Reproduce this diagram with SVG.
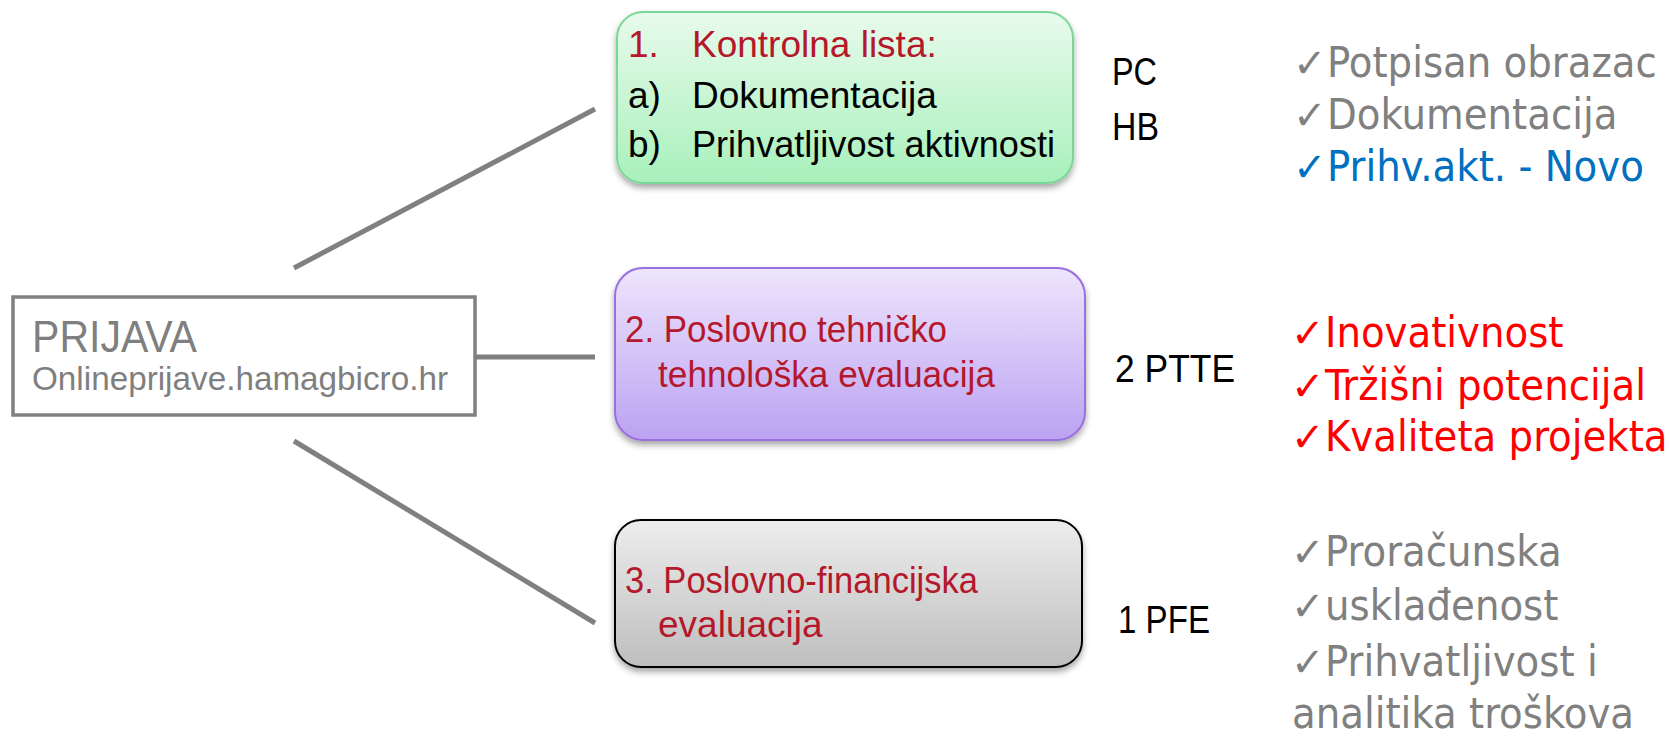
<svg xmlns="http://www.w3.org/2000/svg" width="1669" height="736" viewBox="0 0 1669 736">
<defs>
<linearGradient id="gGreen" x1="0" y1="0" x2="0" y2="1"><stop offset="0" stop-color="#E8FBEC"/><stop offset="1" stop-color="#A8F0BB"/></linearGradient>
<linearGradient id="gPurple" x1="0" y1="0" x2="0" y2="1"><stop offset="0" stop-color="#EDE5FC"/><stop offset="1" stop-color="#BCA2F2"/></linearGradient>
<linearGradient id="gGray" x1="0" y1="0" x2="0" y2="1"><stop offset="0" stop-color="#EDEDED"/><stop offset="1" stop-color="#BEBEBE"/></linearGradient>
<filter id="shadow" x="-10%" y="-10%" width="120%" height="130%"><feDropShadow dx="0" dy="4" stdDeviation="3" flood-color="#000" flood-opacity="0.35"/></filter>
<style>
.cal{font-family:"Liberation Sans",Arial,sans-serif;}
.dred{fill:#B5172B;}
.blk{fill:#000;}
.tah{font-family:"DejaVu Sans Condensed","Liberation Sans",sans-serif;font-size:43px;}
.chk{font-family:"DejaVu Sans",sans-serif;font-size:40px;}
.gray{fill:#808080;}
.blue{fill:#0070C0;}
.red{fill:#FF0000;}
.conn{stroke:#808080;stroke-width:5;fill:none;}
</style>
</defs>

<g id="connectors">
<line class="conn" x1="294" y1="268" x2="595" y2="109"/>
<line class="conn" x1="475" y1="357" x2="595" y2="357"/>
<line class="conn" x1="294" y1="441" x2="595" y2="623"/>
</g>

<g id="prijava">
<rect x="13" y="297" width="462" height="118" fill="#FFFFFF" stroke="#808080" stroke-width="3.5"/>
<text class="cal" x="32" y="352" font-size="44" fill="#7F7F7F" textLength="165" lengthAdjust="spacingAndGlyphs">PRIJAVA</text>
<text class="cal" x="32" y="390" font-size="34" fill="#7F7F7F" textLength="416" lengthAdjust="spacingAndGlyphs">Onlineprijave.hamagbicro.hr</text>
</g>

<g id="node1">
<rect x="617" y="12" width="456" height="171" rx="26" fill="url(#gGreen)" stroke="#7CD796" stroke-width="2" filter="url(#shadow)"/>
<text class="cal dred" font-size="37" y="57"><tspan x="628">1.</tspan><tspan x="692">Kontrolna lista:</tspan></text>
<text class="cal blk" font-size="37" y="108"><tspan x="628">a)</tspan><tspan x="692">Dokumentacija</tspan></text>
<text class="cal blk" font-size="37" y="157"><tspan x="628">b)</tspan><tspan x="692" textLength="363" lengthAdjust="spacingAndGlyphs">Prihvatljivost aktivnosti</tspan></text>
</g>

<g id="node2">
<rect x="615" y="268" width="470" height="172" rx="28" fill="url(#gPurple)" stroke="#9A70E0" stroke-width="2" filter="url(#shadow)"/>
<text class="cal dred" font-size="37" x="625" y="342" textLength="322" lengthAdjust="spacingAndGlyphs">2. Poslovno tehničko</text>
<text class="cal dred" font-size="37" x="658" y="387" textLength="337" lengthAdjust="spacingAndGlyphs">tehnološka evaluacija</text>
</g>

<g id="node3">
<rect x="615" y="520" width="467" height="147" rx="26" fill="url(#gGray)" stroke="#000000" stroke-width="2" filter="url(#shadow)"/>
<text class="cal dred" font-size="37" x="625" y="593" textLength="353" lengthAdjust="spacingAndGlyphs">3. Poslovno-financijska</text>
<text class="cal dred" font-size="37" x="658" y="637">evaluacija</text>
</g>

<g id="labels-mid">
<text class="cal blk" font-size="38" x="1112" y="85" textLength="45" lengthAdjust="spacingAndGlyphs">PC</text>
<text class="cal blk" font-size="38" x="1112" y="140" textLength="47" lengthAdjust="spacingAndGlyphs">HB</text>
<text class="cal blk" font-size="38" x="1115" y="382" textLength="120" lengthAdjust="spacingAndGlyphs">2 PTTE</text>
<text class="cal blk" font-size="38" x="1118" y="633" textLength="92" lengthAdjust="spacingAndGlyphs">1 PFE</text>
</g>

<g id="list1">
<text class="tah gray" y="77"><tspan class="chk" x="1293">✓</tspan><tspan x="1327">Potpisan obrazac</tspan></text>
<text class="tah gray" y="129"><tspan class="chk" x="1293">✓</tspan><tspan x="1327">Dokumentacija</tspan></text>
<text class="tah blue" y="181"><tspan class="chk" x="1293">✓</tspan><tspan x="1327">Prihv.akt. - Novo</tspan></text>
</g>

<g id="list2">
<text class="tah red" y="347"><tspan class="chk" x="1291">✓</tspan><tspan x="1325">Inovativnost</tspan></text>
<text class="tah red" y="400"><tspan class="chk" x="1291">✓</tspan><tspan x="1325">Tržišni potencijal</tspan></text>
<text class="tah red" y="451"><tspan class="chk" x="1291">✓</tspan><tspan x="1325">Kvaliteta projekta</tspan></text>
</g>

<g id="list3">
<text class="tah gray" y="566"><tspan class="chk" x="1291">✓</tspan><tspan x="1325">Proračunska</tspan></text>
<text class="tah gray" y="620"><tspan class="chk" x="1291">✓</tspan><tspan x="1325">usklađenost</tspan></text>
<text class="tah gray" y="676"><tspan class="chk" x="1291">✓</tspan><tspan x="1325">Prihvatljivost i</tspan></text>
<text class="tah gray" x="1292" y="728">analitika troškova</text>
</g>
</svg>
